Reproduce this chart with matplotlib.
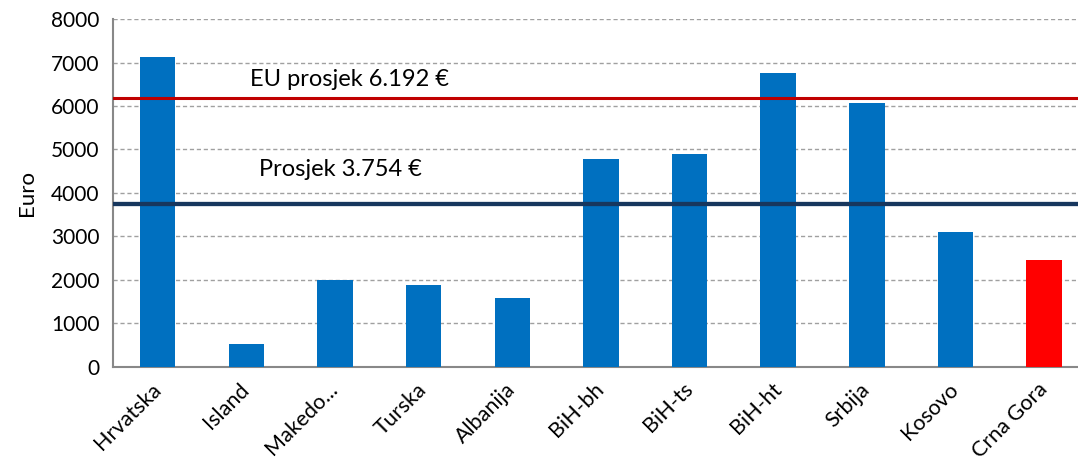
import numpy as np
import matplotlib
matplotlib.use("Agg")
import matplotlib.pyplot as plt

plt.rcParams['font.family'] = ['Lato', 'DejaVu Sans']

# data
countries = ['Hrvatska', 'Island', 'Makedo...', 'Turska', 'Albanija', 'BiH-bh',
             'BiH-ts', 'BiH-ht', 'Srbija', 'Kosovo', 'Crna Gora']
values = [7130, 530, 2000, 1890, 1590, 4780, 4900, 6750, 6060, 3100, 2460]
eu_avg = 6192
avg = 3754
eu_label = 'EU prosjek 6.192 €'
avg_label = 'Prosjek 3.754 €'

colors = ['#0070C0'] * (len(countries) - 1) + ['#FF0000']

fig = plt.figure(figsize=(10.78, 4.66), dpi=100)
ax = fig.add_axes([0.1052, 0.213, 0.9045, 0.746])

x = np.arange(len(countries))
ax.bar(x, values, width=0.4, color=colors, zorder=3)

ax.axhline(eu_avg, color='#C00000', lw=2.2, zorder=4)
ax.axhline(avg, color='#17375E', lw=3.1, zorder=4)

ax.text(1.04, 6610, eu_label, fontsize=17, va='center', ha='left')
ax.text(1.14, 4540, avg_label, fontsize=17, va='center', ha='left')

ax.set_xlim(-0.5, len(countries) - 0.5)
ax.set_ylim(0, 8000)
ax.set_yticks(range(0, 8001, 1000))
ax.set_xticks(x)
ax.set_xticklabels(countries, rotation=45, ha='right', va='center',
                   rotation_mode='anchor', fontsize=15.5)
ax.tick_params(axis='x', length=0, pad=14)
ax.tick_params(axis='y', length=0, labelsize=15, pad=10)

ax.grid(axis='y', color='#A0A0A0', ls=(0, (3, 2)), lw=1.0, zorder=0)
for s in ['top', 'right']:
    ax.spines[s].set_visible(False)
for s in ['left', 'bottom']:
    ax.spines[s].set_color('#888888')
    ax.spines[s].set_linewidth(1.5)

ax.set_ylabel('Euro', fontsize=16, labelpad=10)

fig.savefig('out.png', dpi=100)
